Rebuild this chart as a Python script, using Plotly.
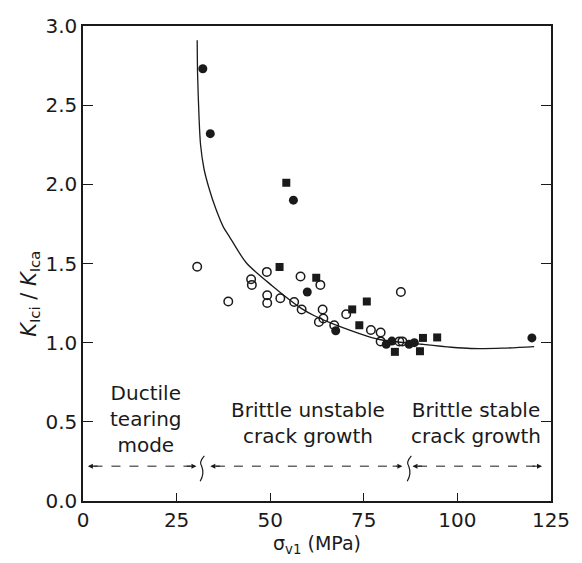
import plotly.graph_objects as go

# ---- data ----
open_x = [30.5, 38.8, 44.9, 45.1, 49.1, 49.2, 49.2, 52.7, 56.4, 58.1, 58.4,
          63.0, 63.4, 64.0, 64.2, 67.1, 70.3, 76.9, 79.5, 79.5, 84.5, 85.3, 84.9]
open_y = [1.48, 1.26, 1.40, 1.365, 1.447, 1.30, 1.25, 1.28, 1.257, 1.418, 1.21,
          1.13, 1.365, 1.21, 1.153, 1.11, 1.18, 1.08, 1.064, 1.008, 1.008, 1.008, 1.32]

fcirc_x = [32.0, 34.0, 56.2, 59.9, 67.5, 81.0, 82.5, 87.1, 88.5, 119.9]
fcirc_y = [2.73, 2.32, 1.90, 1.32, 1.075, 0.99, 1.01, 0.99, 1.00, 1.03]

fsq_x = [54.3, 52.5, 62.3, 71.9, 73.8, 75.8, 83.3, 90.0, 90.8, 94.6]
fsq_y = [2.01, 1.478, 1.41, 1.21, 1.11, 1.26, 0.942, 0.946, 1.03, 1.033]

curve_x = [30.5, 30.6, 31.0, 31.4, 32.3, 33.6, 35.4, 37.5, 39.1, 43.6, 50.5,
           58.4, 61.8, 67.1, 79.2, 90.5, 98.4, 103.6, 112.0, 120.5]
curve_y = [2.91, 2.70, 2.42, 2.25, 2.10, 1.98, 1.85, 1.73, 1.67, 1.505, 1.36,
           1.215, 1.17, 1.116, 1.02, 0.99, 0.971, 0.963, 0.965, 0.975]

x_ticks = [0, 25, 50, 75, 100, 125]
y_ticks = [0.0, 0.5, 1.0, 1.5, 2.0, 2.5, 3.0]

# regime annotations
regime_labels = ["Ductile<br>tearing<br>mode",
                 "Brittle unstable<br>crack growth",
                 "Brittle stable<br>crack growth"]
regime_label_x = [16.8, 60.0, 104.9]
regime_label_y = [0.52, 0.49, 0.49]
arrow_segments = [(1.3, 30.3), (34.0, 85.3), (88.0, 122.6)]
squiggle_x = [31.8, 87.1]
arrow_y = 0.22

FONT = "DejaVu Sans"
INK = "#1a1a1a"

fig = go.Figure()

fig.add_trace(go.Scatter(x=curve_x, y=curve_y, mode="lines",
                         line=dict(color=INK, width=1.3, shape="spline", smoothing=0.8),
                         hoverinfo="skip", showlegend=False))
fig.add_trace(go.Scatter(x=open_x, y=open_y, mode="markers",
                         marker=dict(symbol="circle-open", size=8.5, color=INK,
                                     line=dict(width=1.5, color=INK)),
                         showlegend=False))
fig.add_trace(go.Scatter(x=fcirc_x, y=fcirc_y, mode="markers",
                         marker=dict(symbol="circle", size=9, color=INK),
                         showlegend=False))
fig.add_trace(go.Scatter(x=fsq_x, y=fsq_y, mode="markers",
                         marker=dict(symbol="square", size=8, color=INK),
                         showlegend=False))

annotations = []
shapes = []
for txt, lx, ly in zip(regime_labels, regime_label_x, regime_label_y):
    annotations.append(dict(x=lx, y=ly, xref="x", yref="y", text=txt, showarrow=False,
                            font=dict(family=FONT, size=20, color=INK),
                            align="center", xanchor="center", yanchor="middle"))

for (x0, x1) in arrow_segments:
    shapes.append(dict(type="line", xref="x", yref="y", x0=x0 + 1.5, x1=x1 - 1.5,
                       y0=arrow_y, y1=arrow_y,
                       line=dict(color=INK, width=1, dash="dash")))
    # left arrowhead
    annotations.append(dict(x=x0, y=arrow_y, ax=x0 + 3, ay=arrow_y, xref="x", yref="y",
                            axref="x", ayref="y", text="", showarrow=True,
                            arrowhead=2, arrowsize=1, arrowwidth=1, arrowcolor=INK))
    # right arrowhead
    annotations.append(dict(x=x1, y=arrow_y, ax=x1 - 3, ay=arrow_y, xref="x", yref="y",
                            axref="x", ayref="y", text="", showarrow=True,
                            arrowhead=2, arrowsize=1, arrowwidth=1, arrowcolor=INK))

for sx in squiggle_x:
    top, bot = arrow_y + 0.065, arrow_y - 0.095
    path = (f"M {sx + 0.6},{top} Q {sx - 0.9},{top - 0.04} {sx - 0.1},{arrow_y} "
            f"Q {sx + 0.7},{bot + 0.05} {sx - 0.5},{bot}")
    shapes.append(dict(type="path", xref="x", yref="y", path=path,
                       line=dict(color=INK, width=1.2)))

# y-axis title
annotations.append(dict(x=-0.115, y=1.31, xref="paper", yref="y",
                        text="<i>K</i><sub>Ici</sub> / <i>K</i><sub>Ica</sub>",
                        textangle=-90, showarrow=False,
                        font=dict(family=FONT, size=21, color=INK),
                        xanchor="center", yanchor="middle"))

fig.update_layout(
    width=582, height=563,
    margin=dict(l=83, r=20, t=26, b=54),
    paper_bgcolor="white", plot_bgcolor="white",
    annotations=annotations, shapes=shapes,
    showlegend=False,
)
fig.update_xaxes(range=[0, 125], tickvals=x_ticks, ticktext=[str(v) for v in x_ticks],
                 ticks="inside", ticklen=8, tickwidth=1.2, tickcolor=INK,
                 showline=True, linecolor=INK, linewidth=1.5, mirror=True,
                 showgrid=False, zeroline=False,
                 tickfont=dict(family=FONT, size=20, color=INK),
                 title=dict(text="σ<sub>v1</sub> (MPa)", standoff=6,
                            font=dict(family=FONT, size=19, color=INK)))
fig.update_yaxes(range=[0, 3], tickvals=y_ticks, ticktext=[f"{v:.1f}" for v in y_ticks],
                 ticks="inside", ticklen=10, tickwidth=1.2, tickcolor=INK,
                 showline=True, linecolor=INK, linewidth=1.5, mirror="ticks",
                 showgrid=False, zeroline=False,
                 tickfont=dict(family=FONT, size=20, color=INK))

fig.write_html("out.html")
